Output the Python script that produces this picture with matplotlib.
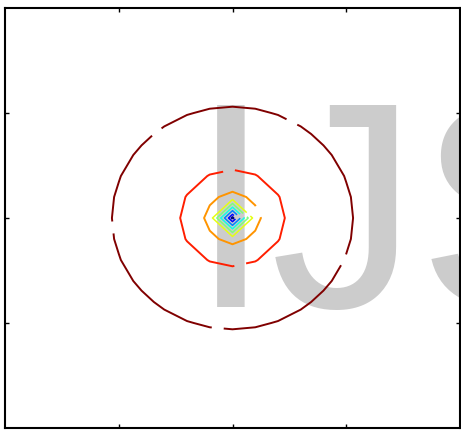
import numpy as np
import matplotlib
matplotlib.use("Agg")
import matplotlib.pyplot as plt

# coarse grid the field was sampled on
x = np.linspace(-2, 2, 21)
y = np.linspace(-2, 2, 21)

# contour levels (distance from the centre)
levels = [0.009, 0.035, 0.07, 0.103, 0.138, 0.176, 0.25, 0.46, 1.06]

# where the blank inline labels cut the big rings
outer_gaps = [(-0.68, 0.84), (0.52, 0.91), (-1.05, -0.09), (0.98, -0.40),
              (-0.13, -1.05), (-0.03, 0.45), (0.07, -0.455), (0.225, 0.06)]

watermark = "IJS"

X, Y = np.meshgrid(x, y)
Z = np.hypot(X, Y)

fig = plt.figure(figsize=(4.61, 4.30), dpi=100)
ax = fig.add_axes([5 / 461, 2 / 430, 455 / 461, 420 / 430])

colors = plt.cm.jet(np.linspace(0, 1, len(levels)))
# split in three sets so each can get its own gaps
cs_dot = ax.contour(X, Y, Z, levels=levels[:1], colors=colors[:1], linewidths=1.4)
cs_in = ax.contour(X, Y, Z, levels=levels[1:6], colors=colors[1:6], linewidths=1.1)
cs_out = ax.contour(X, Y, Z, levels=levels[6:], colors=colors[6:], linewidths=1.4)

# blank labels only to get the gaps in the lines
ax.clabel(cs_out, manual=outer_gaps, inline=True, inline_spacing=6,
          fmt=lambda v: "")
inner_gaps = [(0.8 * l, 0.2 * l) for l in levels[1:6]]
ax.clabel(cs_in, manual=inner_gaps, inline=True, inline_spacing=2.5,
          fmt=lambda v: "")

ax.text(0.4055, 0.288, watermark, transform=ax.transAxes, fontsize=212,
        family="Liberation Sans", color="#cccccc", ha="left", va="baseline",
        zorder=0.5, clip_on=True)

ax.set_xlim(-2, 2)
ax.set_ylim(-2, 2)
ax.set_xticks([-1, 0, 1])
ax.set_yticks([-1, 0, 1])
ax.tick_params(direction="in", length=3, width=1, top=True, right=True,
               labelbottom=False, labelleft=False)
for s in ax.spines.values():
    s.set_linewidth(1.5)

fig.savefig("out.png", dpi=100)
